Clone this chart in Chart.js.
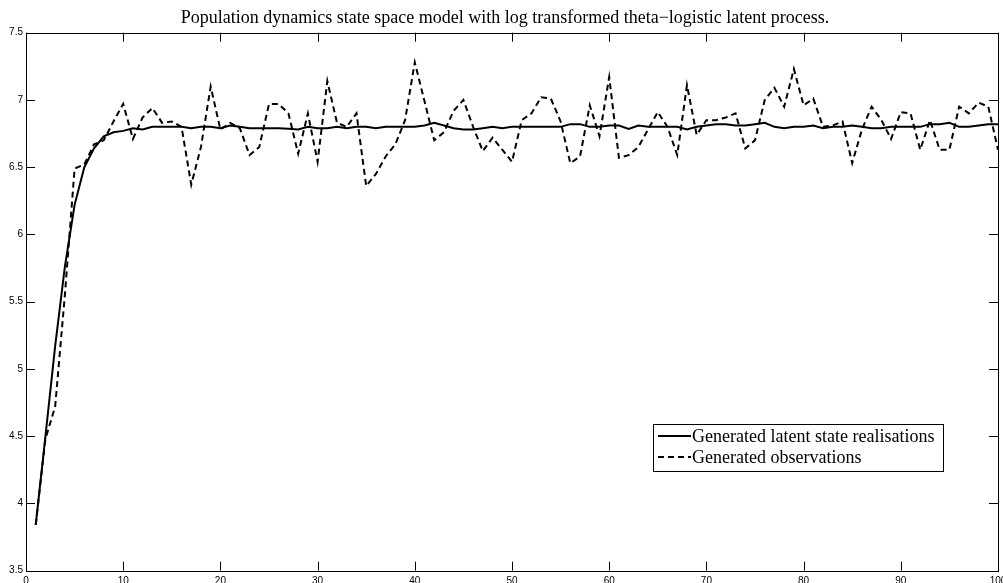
<!DOCTYPE html>
<html>
<head>
<meta charset="utf-8">
<script src="https://cdn.jsdelivr.net/npm/chart.js@4"></script>
<style>
  html, body { margin: 0; padding: 0; background: #fff; }
  #chart { display: block; }
</style>
</head>
<body>
<canvas id="chart" width="1003" height="583"></canvas>
<script>
var chartTitle = 'Population dynamics state space model with log transformed theta\u2212logistic latent process.';

// time steps
var timeSteps = [1, 2, 3, 4, 5, 6, 7, 8, 9, 10,
  11, 12, 13, 14, 15, 16, 17, 18, 19, 20,
  21, 22, 23, 24, 25, 26, 27, 28, 29, 30,
  31, 32, 33, 34, 35, 36, 37, 38, 39, 40,
  41, 42, 43, 44, 45, 46, 47, 48, 49, 50,
  51, 52, 53, 54, 55, 56, 57, 58, 59, 60,
  61, 62, 63, 64, 65, 66, 67, 68, 69, 70,
  71, 72, 73, 74, 75, 76, 77, 78, 79, 80,
  81, 82, 83, 84, 85, 86, 87, 88, 89, 90,
  91, 92, 93, 94, 95, 96, 97, 98, 99, 100];

// latent state (solid line)
var latentState = [3.84, 4.50, 5.17, 5.76, 6.22, 6.50, 6.64, 6.73, 6.76, 6.77,
  6.79, 6.78, 6.80, 6.80, 6.80, 6.80, 6.79, 6.80, 6.80, 6.79,
  6.81, 6.80, 6.79, 6.79, 6.79, 6.79, 6.785, 6.78, 6.80, 6.79,
  6.79, 6.80, 6.79, 6.80, 6.80, 6.79, 6.80, 6.80, 6.80, 6.80,
  6.81, 6.83, 6.81, 6.79, 6.78, 6.78, 6.79, 6.80, 6.79, 6.80,
  6.80, 6.80, 6.80, 6.80, 6.80, 6.82, 6.82, 6.80, 6.80, 6.81,
  6.81, 6.785, 6.81, 6.80, 6.80, 6.80, 6.80, 6.78, 6.80, 6.81,
  6.82, 6.82, 6.81, 6.81, 6.82, 6.83, 6.80, 6.79, 6.80, 6.80,
  6.81, 6.79, 6.80, 6.80, 6.81, 6.80, 6.79, 6.79, 6.80, 6.80,
  6.80, 6.80, 6.82, 6.82, 6.83, 6.80, 6.80, 6.81, 6.82, 6.82];

// observations (dashed line)
var observations = [3.84, 4.48, 4.72, 5.55, 6.49, 6.52, 6.67, 6.70, 6.84, 6.97,
  6.71, 6.87, 6.94, 6.83, 6.84, 6.80, 6.37, 6.65, 7.10, 6.78,
  6.83, 6.79, 6.59, 6.65, 6.97, 6.97, 6.90, 6.60, 6.90, 6.54,
  7.14, 6.83, 6.80, 6.90, 6.36, 6.45, 6.58, 6.67, 6.85, 7.28,
  6.99, 6.70, 6.76, 6.92, 7.00, 6.80, 6.62, 6.72, 6.63, 6.54,
  6.85, 6.90, 7.02, 7.01, 6.84, 6.53, 6.58, 6.96, 6.73, 7.17,
  6.57, 6.59, 6.65, 6.78, 6.91, 6.80, 6.59, 7.11, 6.74, 6.85,
  6.85, 6.87, 6.90, 6.64, 6.70, 7.00, 7.09, 6.95, 7.23, 6.96,
  7.01, 6.80, 6.81, 6.84, 6.53, 6.78, 6.95, 6.85, 6.71, 6.91,
  6.90, 6.63, 6.85, 6.63, 6.63, 6.95, 6.90, 6.98, 6.95, 6.63];

var seriesLabels = ['Generated latent state realisations', 'Generated observations'];

// axis ticks
var xTicks = [0, 10, 20, 30, 40, 50, 60, 70, 80, 90, 100];
var yTicks = [3.5, 4, 4.5, 5, 5.5, 6, 6.5, 7, 7.5];

function toPoints(values) {
  return values.map(function (v, i) { return { x: timeSteps[i], y: v }; });
}

// box round the plot with ticks pointing inward, like matlab
var boxPlugin = {
  id: 'matlabBox',
  afterDatasetsDraw: function (chart) {
    var ctx = chart.ctx;
    var a = chart.chartArea;
    var xs = chart.scales.x;
    var ys = chart.scales.y;
    var len = 9;
    ctx.save();
    ctx.strokeStyle = '#000';
    ctx.lineWidth = 1;
    ctx.beginPath();
    xTicks.forEach(function (t) {
      var px = Math.round(xs.getPixelForValue(t)) + 0.5;
      ctx.moveTo(px, a.bottom); ctx.lineTo(px, a.bottom - len);
      ctx.moveTo(px, a.top); ctx.lineTo(px, a.top + len);
    });
    yTicks.forEach(function (t) {
      var py = Math.round(ys.getPixelForValue(t)) + 0.5;
      ctx.moveTo(a.left, py); ctx.lineTo(a.left + len, py);
      ctx.moveTo(a.right, py); ctx.lineTo(a.right - len, py);
    });
    ctx.stroke();
    ctx.strokeRect(Math.round(a.left) + 0.5, Math.round(a.top) + 0.5,
      Math.round(a.right - a.left), Math.round(a.bottom - a.top));
    ctx.restore();
  },
  afterDraw: function (chart) {
    var ctx = chart.ctx;
    ctx.save();
    // title
    ctx.fillStyle = '#000';
    ctx.font = '18px "Liberation Serif", "Times New Roman", serif';
    ctx.textAlign = 'center';
    ctx.textBaseline = 'alphabetic';
    ctx.fillText(chartTitle, 505, 23);

    // legend box
    var lx = 653.5, ly = 424.5, lw = 290, lh = 47;
    ctx.fillStyle = '#fff';
    ctx.fillRect(lx, ly, lw, lh);
    ctx.strokeStyle = '#000';
    ctx.lineWidth = 1;
    ctx.strokeRect(lx, ly, lw, lh);
    ctx.textAlign = 'left';
    ctx.textBaseline = 'middle';
    chart.data.datasets.forEach(function (ds, i) {
      var rowY = 436 + i * 21;
      ctx.save();
      ctx.strokeStyle = ds.borderColor;
      ctx.lineWidth = 2;
      ctx.setLineDash(ds.borderDash || []);
      ctx.beginPath();
      ctx.moveTo(658, rowY);
      ctx.lineTo(691, rowY);
      ctx.stroke();
      ctx.restore();
      ctx.fillStyle = '#000';
      ctx.fillText(ds.label, 692, rowY + 1);
    });
    ctx.restore();
  }
};

new Chart(document.getElementById('chart').getContext('2d'), {
  type: 'line',
  data: {
    datasets: [{
      label: seriesLabels[0],
      data: toPoints(latentState),
      borderColor: '#000',
      borderWidth: 2,
      pointRadius: 0,
      tension: 0,
      fill: false
    }, {
      label: seriesLabels[1],
      data: toPoints(observations),
      borderColor: '#000',
      borderWidth: 2,
      borderDash: [6, 4],
      pointRadius: 0,
      tension: 0,
      fill: false
    }]
  },
  options: {
    responsive: false,
    animation: false,
    devicePixelRatio: 1,
    layout: { padding: { top: 32.7, right: 5, left: 0, bottom: 0 } },
    plugins: {
      legend: { display: false },
      title: { display: false },
      tooltip: { enabled: false }
    },
    scales: {
      x: {
        type: 'linear',
        min: 0,
        max: 100,
        grid: { display: false, drawTicks: false },
        border: { display: false },
        afterBuildTicks: function (scale) {
          scale.ticks = xTicks.map(function (v) { return { value: v }; });
        },
        afterFit: function (scale) {
          scale.height = 12.3;
          scale.paddingLeft = 0;
          scale.paddingRight = 0;
        },
        ticks: {
          padding: 5,
          maxRotation: 0,
          autoSkip: false,
          color: '#000',
          font: { family: '"Liberation Sans", Arial, sans-serif', size: 10 },
          callback: function (v) { return String(v); }
        }
      },
      y: {
        type: 'linear',
        min: 3.5,
        max: 7.5,
        grid: { display: false, drawTicks: false },
        border: { display: false },
        afterBuildTicks: function (scale) {
          scale.ticks = yTicks.map(function (v) { return { value: v }; });
        },
        afterFit: function (scale) {
          scale.width = 26;
        },
        ticks: {
          padding: 3,
          autoSkip: false,
          color: '#000',
          font: { family: '"Liberation Sans", Arial, sans-serif', size: 10 },
          callback: function (v) { return String(v); }
        }
      }
    }
  },
  plugins: [boxPlugin]
});
</script>
</body>
</html>
